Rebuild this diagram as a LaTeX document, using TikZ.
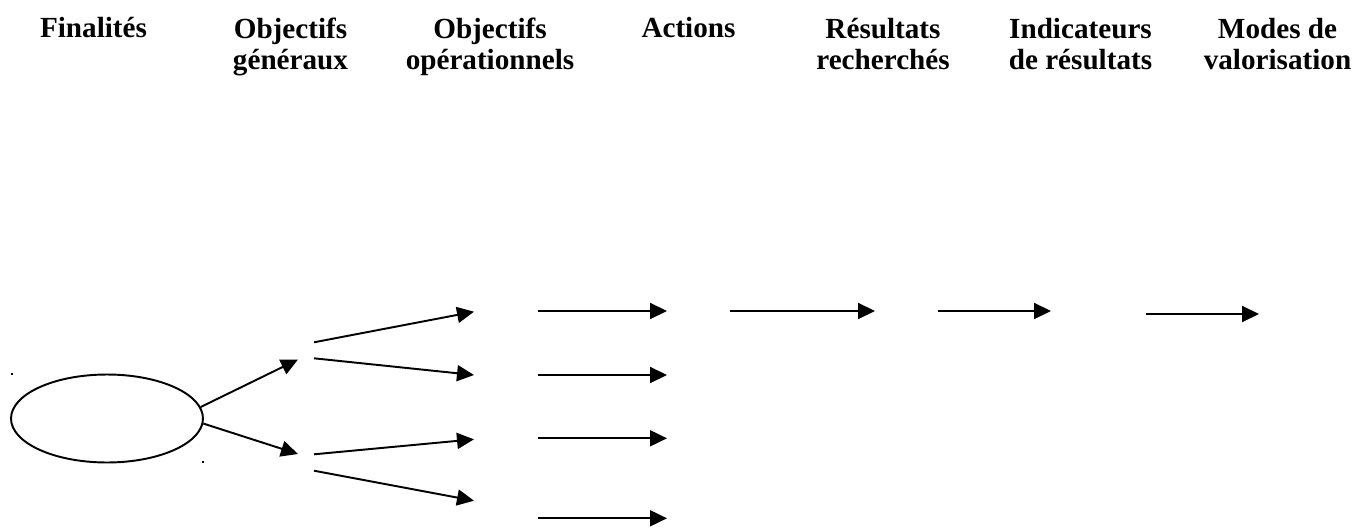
\documentclass[tikz,border=0pt]{standalone}
\usepackage{fontspec}
\setmainfont{Liberation Serif}
\usetikzlibrary{arrows.meta}
\usetikzlibrary{shapes.geometric}
\tikzstyle{sheet} = [x = 0.02cm, y = -0.02cm]
\tikzstyle{arrowStyle} = [color=black, line width=1.1pt, -{Triangle[length=.34cm, width=.32cm]}]
\tikzstyle{headerText} = [font=\bfseries\fontsize{16.6}{18.2}\selectfont, align=center, anchor=base, inner sep=0]
\tikzstyle{goalStyle} = [draw, ellipse, line width=1.1pt, minimum width=3.84cm, minimum height=1.76cm, inner sep=0]
\tikzstyle{markStyle} = [color=black]
\newcommand{\arrowLine}[5]{
  \coordinate (#1Start) at (#2,#3);
  \coordinate (#1End) at (#4,#5);
  \draw [arrowStyle] (#1Start) -- (#1End);
}
\newcommand{\rowArrow}[4]{\arrowLine{#1}{#2}{#4}{#3}{#4}}
\newcommand{\header}[4]{\node [headerText] (#1) at (#2,#3) {#4};}
\newcommand{\cornerMark}[2]{\fill [markStyle] (#1 - 1, #2 - 1) rectangle + (2,2);}

\begin{document}
\begin{tikzpicture}[sheet]
  \useasboundingbox (0,0) rectangle (1354,527);
  % column titles (base = last line)
  \header{finalites}{93.5}{38}{Finalités}
  \header{objGeneraux}{290.5}{70}{Objectifs\\généraux}
  \header{objOperationnels}{490}{70}{Objectifs\\opérationnels}
  \header{actions}{688.5}{38}{Actions}
  \header{resultats}{883}{70}{Résultats\\recherchés}
  \header{indicateurs}{1080.5}{70}{Indicateurs\\de résultats}
  \header{modes}{1277.5}{70}{Modes de\\valorisation}

  % finalite
  \node [goalStyle] (goal) at (107,418.5) {};
  \cornerMark{12}{374}
  \cornerMark{203}{462}

  \coordinate (generalUp) at (298,359.5);
  \coordinate (generalDown) at (298,454);
  \draw [arrowStyle] (goal.7) -- (generalUp);
  \draw [arrowStyle] (goal.-3) -- (generalDown);

  % objectifs operationnels
  \arrowLine{fanA}{314}{342.3}{474}{311.7}
  \arrowLine{fanB}{314}{358.3}{474}{375}
  \arrowLine{fanC}{314}{454.3}{474}{439.3}
  \arrowLine{fanD}{314}{470.7}{474}{500.7}

  % actions and after
  \rowArrow{actA}{538}{667}{311}
  \rowArrow{actB}{538}{667}{375}
  \rowArrow{actC}{538}{667}{438.3}
  \rowArrow{actD}{538}{667}{518.3}
  \rowArrow{resultA}{730}{875}{311}
  \rowArrow{indicA}{938}{1051}{311}
  \rowArrow{modeA}{1146}{1259}{314}
\end{tikzpicture}
\end{document}
